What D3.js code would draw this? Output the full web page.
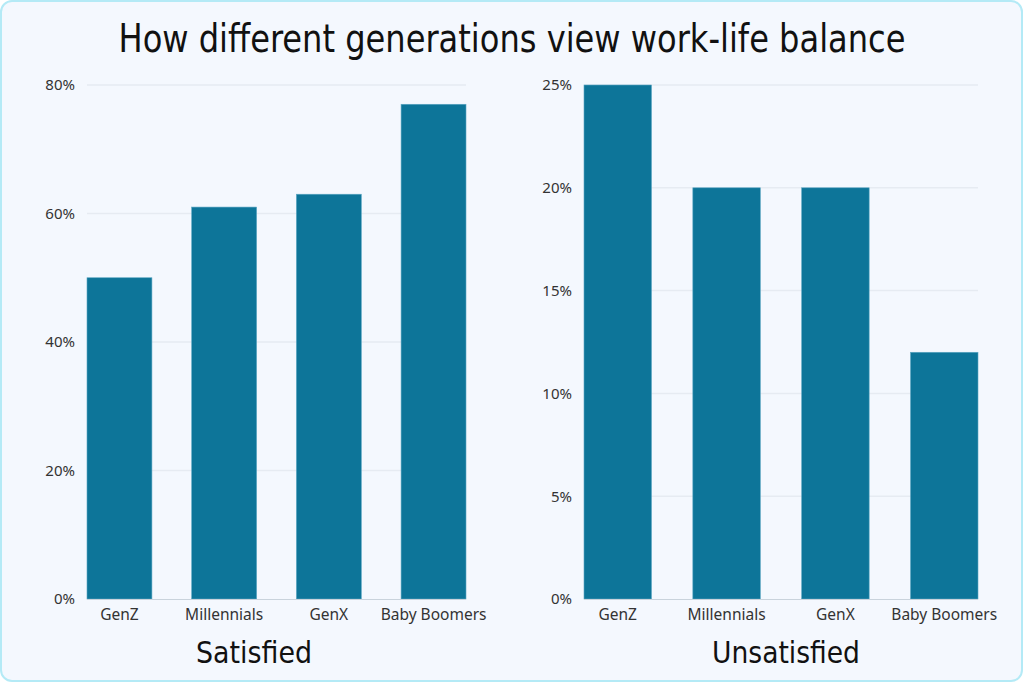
<!DOCTYPE html>
<html><head><meta charset="utf-8">
<script src="https://cdn.jsdelivr.net/npm/d3@7"></script>
<style>
html,body{margin:0;padding:0;background:#fff;}
svg{display:block;}
</style></head>
<body>
<svg id="chart" width="1024" height="683"></svg>
<script>
const categories = ["GenZ", "Millennials", "GenX", "Baby Boomers"];
const satisfiedValues = [50, 61, 63, 77];
const unsatisfiedValues = [25, 20, 20, 12];
const satisfiedTicks = [0, 20, 40, 60, 80];
const unsatisfiedTicks = [0, 5, 10, 15, 20, 25];
const titleText = "How different generations view work-life balance";
const panelTitles = ["Satisfied", "Unsatisfied"];

const svg = d3.select("#chart");
svg.append("rect").attr("x", 1).attr("y", 1).attr("width", 1021).attr("height", 680)
  .attr("rx", 11).attr("fill", "#f4f8fe").attr("stroke", "#b4eaf6").attr("stroke-width", 2);

svg.append("text").attr("x", 512).attr("y", 52).attr("text-anchor", "middle")
  .attr("font-family", "'DejaVu Sans Condensed', 'DejaVu Sans', sans-serif")
  .attr("font-size", 39).attr("fill", "#111")
  .attr("textLength", 787).attr("lengthAdjust", "spacingAndGlyphs")
  .text(titleText);

function panel(values, ticks, maxV, x0, x1, label, labelW, labelCx) {
  const top = 85, bottom = 599;
  const x = d3.scaleBand().domain(categories).range([x0, x1]).paddingInner(0.38).paddingOuter(0);
  const y = d3.scaleLinear().domain([0, maxV]).range([bottom, top]);
  const g = svg.append("g");
  g.selectAll(".grid").data(ticks.filter(t => t > 0)).join("line")
    .attr("x1", x0).attr("x2", x1).attr("y1", d => y(d)).attr("y2", d => y(d))
    .attr("stroke", "#e6ebf2").attr("stroke-width", 1.5);
  const ya = g.append("g").attr("transform", `translate(${x0 - 12},0)`)
    .call(d3.axisLeft(y).tickValues(ticks).tickFormat(d => d + "%").tickSize(0).tickPadding(0));
  ya.select(".domain").remove();
  ya.selectAll("text").attr("font-family", "'Noto Sans', 'Open Sans', sans-serif")
    .attr("font-size", 15).attr("fill", "#333").attr("dy", "0.32em");
  g.selectAll(".bar").data(values).join("rect")
    .attr("x", (d, i) => x(categories[i])).attr("width", x.bandwidth())
    .attr("y", d => y(d)).attr("height", d => bottom - y(d))
    .attr("fill", "#0d7599").attr("stroke", "#5aa6c2").attr("stroke-width", 0.6);
  g.append("line").attr("x1", x0).attr("x2", x1).attr("y1", bottom + 0.5).attr("y2", bottom + 0.5)
    .attr("stroke", "#c9d3dc").attr("stroke-width", 1);
  const xa = g.append("g").attr("transform", `translate(0,${bottom})`)
    .call(d3.axisBottom(x).tickSize(0).tickPadding(10));
  xa.select(".domain").remove();
  xa.selectAll("text").attr("font-family", "'Noto Sans', 'Open Sans', sans-serif")
    .attr("font-size", 15.5).attr("fill", "#333");
  svg.append("text").attr("x", labelCx).attr("y", 663).attr("text-anchor", "middle")
    .attr("font-family", "'DejaVu Sans Condensed', 'DejaVu Sans', sans-serif")
    .attr("font-size", 31).attr("fill", "#111")
    .attr("textLength", labelW).attr("lengthAdjust", "spacingAndGlyphs")
    .text(label);
}

panel(satisfiedValues, satisfiedTicks, 80, 87, 466, panelTitles[0], 116, 254);
panel(unsatisfiedValues, unsatisfiedTicks, 25, 584, 978, panelTitles[1], 148, 786);
</script>
</body></html>
